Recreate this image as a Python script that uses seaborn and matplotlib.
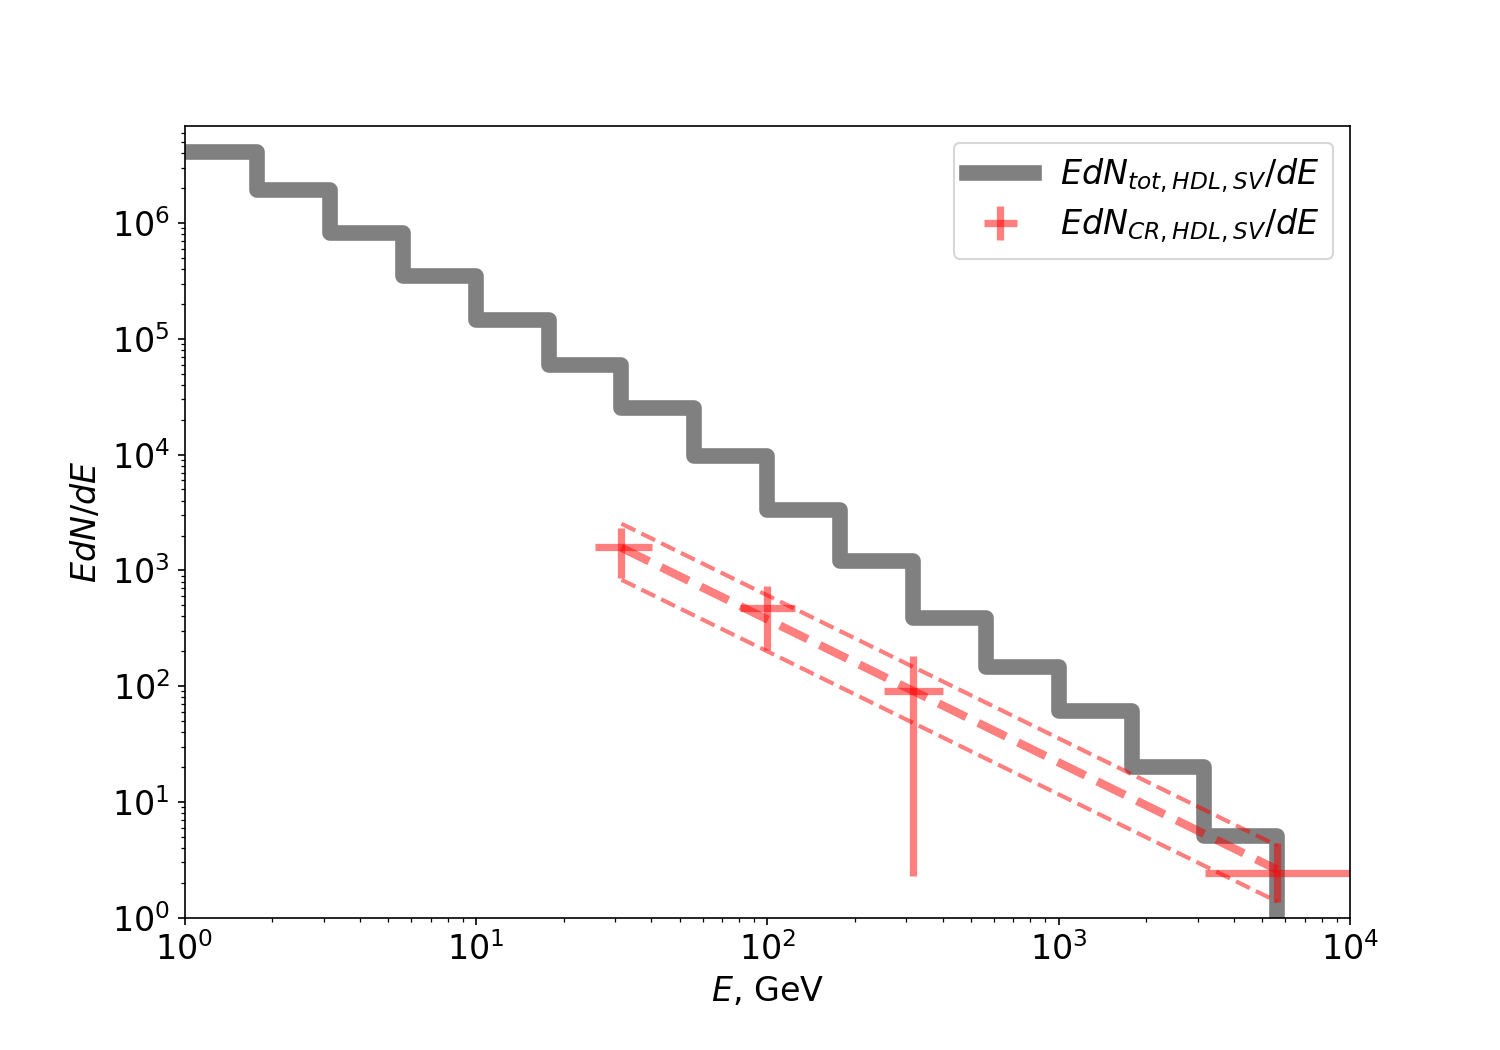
import numpy as np
import pandas as pd
import matplotlib
matplotlib.use('Agg')
import matplotlib.pyplot as plt
import seaborn as sns

# total spectrum, step histogram (bin edges every 0.25 dex)
bin_edges = [1.0, 1.78, 3.16, 5.62, 10.0, 17.8, 31.6, 56.2, 100.0, 178.0,
             316.0, 562.0, 1000.0, 1780.0, 3160.0, 5620.0]
tot_vals = [4.1e6, 1.94e6, 8.2e5, 3.5e5, 1.46e5, 5.96e4, 2.54e4, 9.8e3, 3.34e3,
            1.21e3, 389.0, 147.0, 61.4, 20.0, 5.1]

# CR points with errors
cr_x = [31.6, 100.0, 316.0, 5620.0]
cr_y = [1600.0, 475.0, 91.0, 2.45]
cr_xlo = [25.6, 80.5, 251.0, 3180.0]
cr_xhi = [40.2, 125.0, 401.0, 10000.0]
cr_ylo = [863.0, 206.0, 2.3, 1.37]
cr_yhi = [2330.0, 736.0, 183.0, 4.45]

# power-law fit and band (endpoints)
fit_x = [31.6, 5620.0]
fit_y = [1570.0, 2.6]
fit_up = [2530.0, 4.2]
fit_lo = [830.0, 1.38]

fig, ax = plt.subplots(figsize=(10, 7), dpi=150)
fig.subplots_adjust(left=0.123, right=0.9, bottom=0.126, top=0.88)

step_df = pd.DataFrame({
    'E': bin_edges + [bin_edges[-1]],
    'N': tot_vals + [tot_vals[-1], 1e-2],
})
sns.lineplot(data=step_df, x='E', y='N', ax=ax, sort=False, estimator=None,
             drawstyle='steps-post', color='gray', linewidth=7.5,
             label=r'$EdN_{tot,HDL,SV}/dE$')

fit_df = pd.DataFrame({'E': fit_x, 'fit': fit_y, 'up': fit_up, 'lo': fit_lo})
sns.lineplot(data=fit_df, x='E', y='fit', ax=ax, color='red', alpha=0.5,
             linewidth=4, linestyle='--', legend=False)
sns.lineplot(data=fit_df, x='E', y='up', ax=ax, color='red', alpha=0.5,
             linewidth=2, linestyle='--', legend=False)
sns.lineplot(data=fit_df, x='E', y='lo', ax=ax, color='red', alpha=0.5,
             linewidth=2, linestyle='--', legend=False)

x = np.array(cr_x)
y = np.array(cr_y)
xerr = [x - np.array(cr_xlo), np.array(cr_xhi) - x]
yerr = [y - np.array(cr_ylo), np.array(cr_yhi) - y]
ax.errorbar(x, y, xerr=xerr, yerr=yerr, fmt='none', ecolor='red',
            elinewidth=3.5, alpha=0.5, label=r'$EdN_{CR,HDL,SV}/dE$')

ax.set_xscale('log')
ax.set_yscale('log')
ax.set_xlim(1, 1e4)
ax.set_ylim(1, 6.9e6)
ax.set_xlabel(r'$E$, GeV', fontsize=16)
ax.set_ylabel(r'$EdN/dE$', fontsize=16)
ax.tick_params(labelsize=16)

ax.legend(loc='upper right', fontsize=16, handlelength=2.0, labelspacing=0.35)

plt.savefig('out.png', dpi=150)
